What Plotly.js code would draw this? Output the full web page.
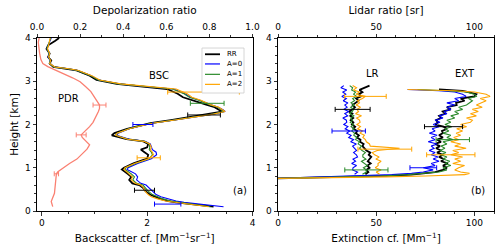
<!DOCTYPE html>
<html><head><meta charset="utf-8">
<script src="https://cdn.plot.ly/plotly-3.0.1.min.js"></script>
<style>html,body{margin:0;padding:0;background:#fff}#c{width:500px;height:252px}</style>
</head><body><div id="c"></div>
<script>
// ---------- Panel (a): backscatter coefficient profiles ----------
const H_BSC = [0.10,0.13,0.17,0.20,0.23,0.28,0.33,0.38,0.46,0.54,0.60,0.64,0.72,0.79,0.86,0.96,1.00,1.10,1.21,1.30,1.36,1.42,1.47,1.55,1.61,1.66,1.75,1.80,1.90,1.98,2.03,2.10,2.16,2.24,2.30,2.34,2.40,2.46,2.56,2.63,2.71,2.82,2.88,2.94,3.03,3.13,3.25,3.29,3.33,3.41,3.48,3.56,3.64,3.75,3.83,3.93,4.00];
const BSC_RR = [3.26,3.0,2.75,2.55,2.4,2.25,2.14,2.05,1.97,1.92,1.85,1.72,1.66,1.70,1.63,1.52,1.56,1.74,2.0,2.02,1.95,1.88,2.0,2.02,1.93,1.61,1.33,1.38,1.62,1.87,2.06,2.45,2.76,3.2,3.42,3.36,3.28,3.12,2.88,2.68,2.58,2.38,1.87,1.42,1.04,0.91,0.66,0.47,0.22,0.15,0.18,0.12,0.15,0.09,0.12,0.25,0.33];
const BSC_A0 = [3.45,3.2,2.9,2.7,2.55,2.38,2.26,2.17,2.1,2.04,1.98,1.88,1.8,1.82,1.78,1.62,1.64,1.82,2.08,2.18,2.17,2.1,2.08,2.06,1.96,1.66,1.42,1.45,1.66,1.9,2.1,2.5,2.82,3.26,3.48,3.44,3.35,3.2,3.0,2.82,2.72,2.5,1.95,1.48,1.08,0.94,0.68,0.5,0.24,0.15,0.16,0.12,0.14,0.1,0.12,0.16,0.18];
const BSC_A1 = [3.2,3.02,2.8,2.6,2.45,2.3,2.18,2.1,2.02,1.97,1.92,1.8,1.73,1.76,1.7,1.58,1.6,1.78,2.04,2.1,2.08,2.04,2.05,2.04,1.95,1.64,1.4,1.43,1.65,1.89,2.08,2.48,2.8,3.24,3.46,3.42,3.34,3.18,2.98,2.8,2.7,2.48,1.93,1.46,1.07,0.93,0.67,0.49,0.23,0.15,0.16,0.13,0.14,0.1,0.12,0.15,0.17];
const BSC_A2 = [3.17,2.96,2.72,2.5,2.35,2.2,2.08,2.02,1.96,1.93,1.88,1.77,1.7,1.72,1.66,1.56,1.58,1.76,2.03,2.12,2.1,2.06,2.08,2.05,1.94,1.63,1.4,1.43,1.66,1.9,2.1,2.5,2.82,3.26,3.48,3.44,3.36,3.2,3.02,2.85,2.76,2.55,1.98,1.5,1.1,0.95,0.7,0.52,0.25,0.15,0.17,0.13,0.15,0.11,0.13,0.15,0.16];

// backscatter error bars: heights, centres, half-widths
const BSC_ERR_RR_H = [2.22,0.48], BSC_ERR_RR_X = [3.08,1.95], BSC_ERR_RR_E = [0.31,0.19];
const BSC_ERR_A0_H = [2.00,0.16], BSC_ERR_A0_X = [1.92,2.39], BSC_ERR_A0_E = [0.19,0.25];
const BSC_ERR_A1_H = [2.49], BSC_ERR_A1_X = [3.14], BSC_ERR_A1_E = [0.32];
const BSC_ERR_A2_H = [2.75,1.23], BSC_ERR_A2_X = [3.07,2.03], BSC_ERR_A2_E = [0.68,0.22];

// particle depolarization ratio
const H_PDR = [0.10,0.22,0.41,0.60,0.79,0.86,0.91,1.00,1.10,1.20,1.33,1.43,1.53,1.64,1.70,1.76,1.85,1.95,2.05,2.18,2.30,2.37,2.45,2.53,2.65,2.76,2.88,2.99,3.08,3.18,3.26,3.34,3.41,3.50,3.65,3.80,3.90,4.00];
const PDR = [0.073,0.066,0.081,0.085,0.089,0.09,0.097,0.12,0.151,0.185,0.213,0.232,0.244,0.22,0.21,0.205,0.225,0.244,0.26,0.275,0.285,0.29,0.29,0.28,0.265,0.25,0.225,0.2,0.165,0.12,0.08,0.05,0.027,0.018,0.012,0.008,0.006,0.01];
const PDR_ERR_H = [2.45,1.76,0.86], PDR_ERR_X = [0.29,0.205,0.09], PDR_ERR_E = [0.03,0.023,0.01];

// ---------- Panel (b): lidar ratio and extinction ----------
const H_LR = [0.85,0.90,0.95,1.00,1.05,1.10,1.15,1.20,1.25,1.30,1.35,1.40,1.45,1.50,1.55,1.60,1.65,1.70,1.75,1.80,1.85,1.90,1.95,2.00,2.05,2.10,2.15,2.20,2.25,2.30,2.35,2.40,2.45,2.50,2.55,2.60,2.65,2.70,2.75,2.80,2.85,2.90];
const LR_RR = [44.5,46.0,45.0,46.6,45.5,47.2,45.7,46.8,47.5,46.2,47.0,45.0,44.2,43.0,43.6,41.8,42.0,40.2,41.2,39.6,40.3,38.4,39.3,37.6,38.4,37.0,38.3,36.8,37.9,36.2,38.0,39.2,38.0,39.5,41.0,39.8,42.2,41.2,43.0,41.5,44.0,46.6];
const LR_A0 = [39.0,40.5,38.0,38.2,40.0,37.5,39.5,38.2,40.5,39.9,38.5,40.0,39.0,38.0,39.9,37.0,38.5,36.0,37.2,35.0,36.5,34.2,35.6,33.5,35.0,34.8,33.0,35.5,34.0,36.0,33.5,35.2,34.0,35.6,33.2,34.8,32.5,34.5,33.0,35.0,32.0,33.5];
const LR_A1 = [43.0,45.0,44.9,43.5,45.5,44.0,42.5,44.8,43.2,43.2,44.5,42.8,41.5,42.5,40.8,41.5,39.5,40.2,38.6,39.0,37.5,38.8,37.2,38.5,36.8,38.0,37.0,38.6,36.5,37.8,38.5,37.0,38.8,37.2,39.0,38.0,40.0,38.5,39.5,37.5,38.0,36.5];
const LR_A2 = [51.7,50.0,52.5,49.5,51.0,50.9,52.5,49.8,51.5,49.2,48.0,50.5,61.9,47.0,46.6,45.0,44.5,43.2,44.0,41.8,43.0,40.5,42.0,40.2,41.8,41.5,40.0,42.5,39.5,41.0,40.2,42.0,39.8,41.5,40.5,43.0,44.5,39.8,41.5,38.5,40.0,38.0];
const LR_ERR_RR_H = [2.35], LR_ERR_RR_X = [38.0], LR_ERR_RR_E = [8.9];
const LR_ERR_A0_H = [1.85], LR_ERR_A0_X = [36.0], LR_ERR_A0_E = [8.5];
const LR_ERR_A1_H = [0.95], LR_ERR_A1_X = [45.0], LR_ERR_A1_E = [11.0];
const LR_ERR_A2_H = [2.65,1.43], LR_ERR_A2_X = [44.5,54.4], LR_ERR_A2_E = [10.6,13.7];

const H_EXT = [0.755,0.77,0.79,0.81,0.84,0.87,0.90,0.95,1.00,1.05,1.10,1.15,1.20,1.25,1.30,1.35,1.40,1.45,1.50,1.55,1.60,1.65,1.70,1.75,1.80,1.85,1.90,1.95,2.00,2.05,2.10,2.15,2.20,2.25,2.30,2.35,2.40,2.45,2.50,2.55,2.60,2.65,2.70,2.75,2.78,2.81];
const EXT_RR = [0,18,38,55,68,76,80,84,86,84,86.5,83,84.5,82,84,81,83,80.5,82.5,80,83,81,84,82,84,83.5,86,84.3,80,81.5,80.5,83,82,85,83.9,88,86,91,90.7,95,93,100,101,97,94,82];
const EXT_A0 = [0,12,30,45,58,68,74,79,74,80,78,82,79,81.5,78,80,77,79.5,78,81,76.5,80,78,81,77.1,80,78.5,82,79,82.5,80,84,82,86,84.5,88,86,90,86,92,90,95.8,94,90,82,66];
const EXT_A1 = [0,16,36,52,66,76,82,86,84,88,85,87.5,84,86,83,85.5,82.5,85,83,86,84,89,86,88,84,87,85,88.5,85,88,86,90,88,92,90,94,92,96,97.5,99,97,101,100,96,86,71];
const EXT_A2 = [0,30,55,75,95,97.5,93,90,92,95,89,93,90,94,88,92,89,95.8,90,93,88,92,89.5,93,90.7,94,91,96,93,98,99,96,101,98,102,99,104,101,104,106,103,108,106,100,90,66];
const EXT_ERR_RR_H = [1.95], EXT_ERR_RR_X = [84.3], EXT_ERR_RR_E = [9.7];
const EXT_ERR_A0_H = [1.00], EXT_ERR_A0_X = [74.0], EXT_ERR_A0_E = [6.8];
const EXT_ERR_A1_H = [1.65], EXT_ERR_A1_X = [89.0], EXT_ERR_A1_E = [8.5];
const EXT_ERR_A2_H = [1.30], EXT_ERR_A2_X = [88.0], EXT_ERR_A2_E = [12.3];

const NAMES = ['RR','A=0','A=1','A=2'];
const COLORS = ['#000000','#0000ff','#2a8a2a','#ffa500'];
const WIDTHS = [1.8,1.1,1.1,1.1];

const traces = [];
function line(x, y, xa, ya, i){
  traces.push({type:'scatter', mode:'lines', x:x, y:y, xaxis:xa, yaxis:ya,
    name:NAMES[i], legendgroup:NAMES[i], showlegend:false,
    line:{color:COLORS[i], width:WIDTHS[i]}, hoverinfo:'skip'});
}
function errs(h, x, e, xa, ya, color){
  traces.push({type:'scatter', mode:'markers', x:x, y:h, xaxis:xa, yaxis:ya, showlegend:false,
    marker:{size:1, opacity:0, color:color},
    error_x:{type:'data', array:e, visible:true, color:color, thickness:1, width:2.5}, hoverinfo:'skip'});
}
// PDR
traces.push({type:'scatter', mode:'lines', x:PDR, y:H_PDR, xaxis:'x2', yaxis:'y', showlegend:false,
  name:'PDR', line:{color:'#fa8072', width:1.3}, hoverinfo:'skip'});
errs(PDR_ERR_H, PDR_ERR_X, PDR_ERR_E, 'x2', 'y', '#fa8072');

const BSC = [BSC_RR, BSC_A0, BSC_A1, BSC_A2];
const LR = [LR_RR, LR_A0, LR_A1, LR_A2];
const EXT = [EXT_RR, EXT_A0, EXT_A1, EXT_A2];
BSC.forEach((v,i)=>line(v, H_BSC, 'x', 'y', i));
LR.forEach((v,i)=>line(v, H_LR, 'x4', 'y2', i));
EXT.forEach((v,i)=>line(v, H_EXT, 'x3', 'y2', i));

errs(BSC_ERR_RR_H, BSC_ERR_RR_X, BSC_ERR_RR_E, 'x', 'y', COLORS[0]);
errs(BSC_ERR_A0_H, BSC_ERR_A0_X, BSC_ERR_A0_E, 'x', 'y', COLORS[1]);
errs(BSC_ERR_A1_H, BSC_ERR_A1_X, BSC_ERR_A1_E, 'x', 'y', COLORS[2]);
errs(BSC_ERR_A2_H, BSC_ERR_A2_X, BSC_ERR_A2_E, 'x', 'y', COLORS[3]);
errs(LR_ERR_RR_H, LR_ERR_RR_X, LR_ERR_RR_E, 'x4', 'y2', COLORS[0]);
errs(LR_ERR_A0_H, LR_ERR_A0_X, LR_ERR_A0_E, 'x4', 'y2', COLORS[1]);
errs(LR_ERR_A1_H, LR_ERR_A1_X, LR_ERR_A1_E, 'x4', 'y2', COLORS[2]);
errs(LR_ERR_A2_H, LR_ERR_A2_X, LR_ERR_A2_E, 'x4', 'y2', COLORS[3]);
errs(EXT_ERR_RR_H, EXT_ERR_RR_X, EXT_ERR_RR_E, 'x3', 'y2', COLORS[0]);
errs(EXT_ERR_A0_H, EXT_ERR_A0_X, EXT_ERR_A0_E, 'x3', 'y2', COLORS[1]);
errs(EXT_ERR_A1_H, EXT_ERR_A1_X, EXT_ERR_A1_E, 'x3', 'y2', COLORS[2]);
errs(EXT_ERR_A2_H, EXT_ERR_A2_X, EXT_ERR_A2_E, 'x3', 'y2', COLORS[3]);

const FONT = 'DejaVu Sans, Liberation Sans, sans-serif';
const tickFont = {family:FONT, size:9, color:'#000'};
const titleFont = {family:FONT, size:10.5, color:'#000'};
function ax(o){
  return Object.assign({showgrid:false, zeroline:false, showline:true, linecolor:'#000', linewidth:1,
    ticks:'outside', ticklen:3.5, tickwidth:0.8, tickcolor:'#000', tickfont:tickFont, fixedrange:true}, o);
}

// compact legend (matplotlib-style) inside panel (a)
const LEG = {x0:0.361, x1:0.453, y0:0.682, y1:0.942, lx0:0.3676, lx1:0.4004, tx:0.4114, ys:[0.906,0.850,0.790,0.732]};
const shapes = [{type:'rect', xref:'paper', yref:'paper', x0:LEG.x0, x1:LEG.x1, y0:LEG.y0, y1:LEG.y1,
  fillcolor:'#fff', line:{color:'#cccccc', width:0.8}, layer:'above'}];
const annotations = [];
NAMES.forEach((n,i)=>{
  shapes.push({type:'line', xref:'paper', yref:'paper', x0:LEG.lx0, x1:LEG.lx1, y0:LEG.ys[i], y1:LEG.ys[i],
    line:{color:COLORS[i], width:i===0?1.8:1.2}, layer:'above'});
  annotations.push({text:n, xref:'paper', yref:'paper', x:LEG.tx, y:LEG.ys[i], xanchor:'left', yanchor:'middle',
    showarrow:false, font:{family:FONT, size:7, color:'#000'}});
});
[['BSC',2.22,3.14,'x','y'],['PDR',0.5,2.6,'x','y'],['(a)',3.77,0.47,'x','y'],
 ['LR',48,3.19,'x3','y2'],['EXT',95,3.19,'x3','y2'],['(b)',102,0.47,'x3','y2']].forEach(a=>{
  annotations.push({text:a[0], x:a[1], y:a[2], xref:a[3], yref:a[4], showarrow:false,
    font:{family:FONT, size:10, color:'#000'}});
});

const layout = {
  width:500, height:252, margin:{l:37, r:6, t:38, b:41}, paper_bgcolor:'#fff', plot_bgcolor:'#fff',
  font:{family:FONT, color:'#000'}, showlegend:false,
  xaxis: ax({domain:[0,0.4716], range:[-0.09,4.0], anchor:'y', tick0:0, dtick:2,
    minor:{dtick:0.5, tick0:0, ticks:'outside', ticklen:2, tickcolor:'#000'},
    title:{text:'Backscatter cf. [Mm<sup>−1</sup>sr<sup>−1</sup>]', font:titleFont, standoff:7}}),
  xaxis2: ax({overlaying:'x', side:'top', anchor:'y', range:[0,1], tick0:0, dtick:0.2, tickformat:'.1f',
    minor:{dtick:0.1, tick0:0, ticks:'outside', ticklen:2, tickcolor:'#000'},
    title:{text:'Depolarization ratio', font:titleFont, standoff:5}}),
  yaxis: ax({domain:[0,1], range:[0,4], anchor:'x', dtick:1, mirror:true,
    minor:{dtick:0.2, ticks:'outside', ticklen:2, tickcolor:'#000'},
    title:{text:'Height [km]', font:titleFont, standoff:4}}),
  xaxis3: ax({domain:[0.5274,1], range:[0,110], anchor:'y2', tick0:0, dtick:50,
    minor:{dtick:10, tick0:0, ticks:'outside', ticklen:2, tickcolor:'#000'},
    title:{text:'Extinction cf. [Mm<sup>−1</sup>]', font:titleFont, standoff:7}}),
  xaxis4: ax({overlaying:'x3', side:'top', anchor:'y2', range:[0,110], tick0:0, dtick:50,
    minor:{dtick:10, tick0:0, ticks:'outside', ticklen:2, tickcolor:'#000'},
    title:{text:'Lidar ratio [sr]', font:titleFont, standoff:5}}),
  yaxis2: ax({domain:[0,1], range:[0,4], anchor:'x3', dtick:1, mirror:true,
    minor:{dtick:0.2, ticks:'outside', ticklen:2, tickcolor:'#000'}}),
  shapes: shapes,
  annotations: annotations
};
Plotly.newPlot('c', traces, layout, {staticPlot:true, displayModeBar:false});
</script></body></html>
